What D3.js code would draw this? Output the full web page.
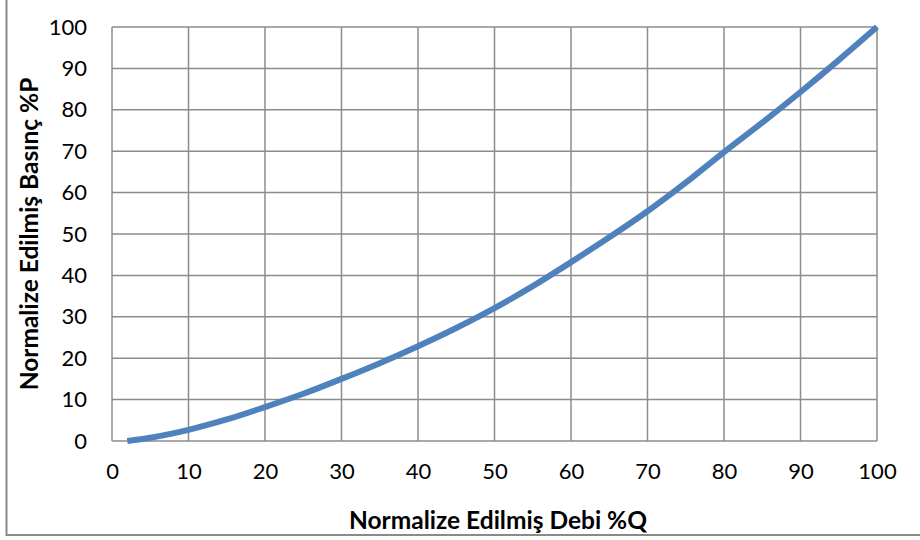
<!DOCTYPE html>
<html>
<head>
  <script src="https://cdn.jsdelivr.net/npm/d3@7"></script>
  <style>
    body { margin: 0; background: white; }
    text { font-family: Lato, "Open Sans", sans-serif; fill: black; }
  </style>
</head>
<body>
  <script>
    // readings from the reference (Q %, P %)
    const flow = [2, 5, 10, 15, 20, 25, 30, 35, 40, 45, 50, 55, 60, 65, 70, 75, 80, 85, 90, 95, 100]
    const pressure = [0, 0.8, 2.7, 5.2, 8.2, 11.4, 15.0, 18.8, 22.9, 27.3, 32.1, 37.4, 43.2, 49.2, 55.5, 62.4, 69.8, 76.9, 84.3, 92.0, 100]
    const xTicks = [0, 10, 20, 30, 40, 50, 60, 70, 80, 90, 100]
    const yTicks = [0, 10, 20, 30, 40, 50, 60, 70, 80, 90, 100]
    const xTitle = 'Normalize Edilmiş Debi %Q'
    const yTitle = 'Normalize Edilmiş Basınç %P'

    const W = 920, H = 540
    const mLeft = 112, mRight = 877, mTop = 27, mBottom = 441

    const svg = d3.select('body').append('svg').attr('width', W).attr('height', H)

    // outer chart frame
    svg.append('rect')
      .attr('x', 6.5).attr('y', -1)
      .attr('width', W).attr('height', 536)
      .attr('fill', 'none').attr('stroke', '#8a8a8a').attr('stroke-width', 2)

    const x = d3.scaleLinear().domain([0, 100]).range([mLeft, mRight])
    const y = d3.scaleLinear().domain([0, 100]).range([mBottom, mTop])

    const grid = svg.append('g').attr('stroke', '#8c8c8c').attr('stroke-width', 1.5)
    grid.selectAll('.v').data(xTicks).join('line').attr('class', 'v')
      .attr('x1', d => x(d)).attr('x2', d => x(d))
      .attr('y1', mTop).attr('y2', mBottom)
    grid.selectAll('.h').data(yTicks).join('line').attr('class', 'h')
      .attr('y1', d => y(d)).attr('y2', d => y(d))
      .attr('x1', mLeft).attr('x2', mRight)

    const xAxis = svg.append('g').attr('transform', `translate(0,${mBottom})`)
      .call(d3.axisBottom(x).tickValues(xTicks).tickSize(0).tickPadding(22))
    const yAxis = svg.append('g').attr('transform', `translate(${mLeft},0)`)
      .call(d3.axisLeft(y).tickValues(yTicks).tickSize(0).tickPadding(25))
    ;[xAxis, yAxis].forEach(a => {
      a.select('.domain').remove()
      a.selectAll('text').attr('font-size', 22).attr('font-family', 'Lato, "Open Sans", sans-serif').attr('fill', 'black')
    })

    const line = d3.line().x((d, i) => x(flow[i])).y(d => y(d)).curve(d3.curveMonotoneX)
    svg.append('path')
      .datum(pressure)
      .attr('d', line)
      .attr('fill', 'none')
      .attr('stroke', '#4f81bd')
      .attr('stroke-width', 6)

    svg.append('text')
      .attr('x', 498).attr('y', 529)
      .attr('text-anchor', 'middle')
      .attr('font-size', 24.5).attr('font-weight', 'bold')
      .text(xTitle)

    svg.append('text')
      .attr('transform', `translate(38,${(mTop + mBottom) / 2}) rotate(-90)`)
      .attr('text-anchor', 'middle')
      .attr('font-size', 24.5).attr('font-weight', 'bold')
      .text(yTitle)
  </script>
</body>
</html>
